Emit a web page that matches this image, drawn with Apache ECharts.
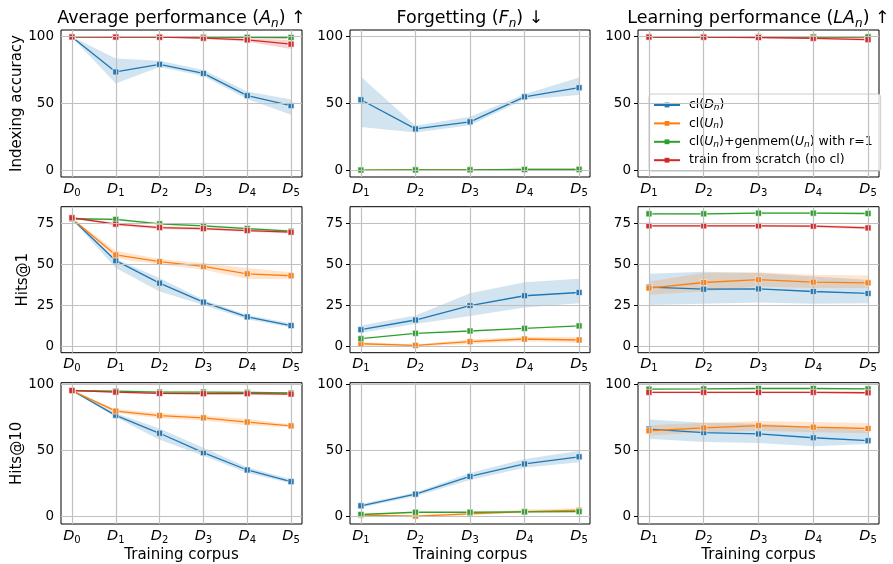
<!DOCTYPE html>
<html><head><meta charset="utf-8">
<script src="https://cdn.jsdelivr.net/npm/echarts@6/dist/echarts.min.js"></script>
<style>html,body{margin:0;padding:0;background:#fff}#c{width:893px;height:564px}</style>
</head><body><div id="c"></div>
<script>
// ---------- data ----------
const xAvg = [0, 1, 2, 3, 4, 5];
const xFL = [1, 2, 3, 4, 5];

// Row 1: Indexing accuracy
const idxA_clD = [99.8, 73.6, 79.3, 72.5, 55.9, 48.4];
const idxA_clD_lo = [99.5, 65.0, 77.3, 70.5, 53.4, 41.6];
const idxA_clD_hi = [100, 83.6, 81.9, 75.0, 59.0, 52.9];
const idxA_clU = [99.8, 99.8, 99.8, 99.6, 99.5, 99.4];
const idxA_gen = [99.8, 99.8, 99.8, 99.6, 99.5, 99.4];
const idxA_scr = [99.8, 99.7, 99.6, 98.9, 97.6, 94.4];
const idxA_scr_lo = [99.6, 99.5, 99.3, 98.5, 96.3, 90.8];
const idxA_scr_hi = [100, 99.9, 99.9, 99.4, 98.8, 97.6];

const idxF_clD = [52.8, 31.0, 36.3, 55.0, 61.8];
const idxF_clD_lo = [32.5, 28.3, 33.8, 53.0, 56.3];
const idxF_clD_hi = [70.0, 33.3, 40.0, 57.0, 69.5];
const idxF_clU = [0.2, 0.3, 0.4, 0.6, 0.7];
const idxF_gen = [0.2, 0.3, 0.4, 0.6, 0.7];

const idxL_clD = [99.8, 99.8, 99.8, 99.7, 99.6];
const idxL_clU = [99.8, 99.8, 99.8, 99.7, 99.6];
const idxL_gen = [99.9, 99.9, 99.9, 99.9, 99.9];
const idxL_scr = [99.7, 99.6, 99.4, 98.8, 97.8];
const idxL_scr_lo = [99.5, 99.4, 99.1, 98.3, 96.9];
const idxL_scr_hi = [99.9, 99.8, 99.7, 99.3, 98.7];

// Row 2: Hits@1
const h1A_clD = [77.7, 52.1, 38.4, 26.8, 17.8, 12.5];
const h1A_clD_lo = [77.2, 47.6, 33.3, 25.1, 16.3, 11.4];
const h1A_clD_hi = [78.2, 53.1, 41.5, 28.2, 19.0, 13.9];
const h1A_clU = [77.7, 55.6, 51.5, 48.6, 44.1, 42.9];
const h1A_clU_lo = [77.2, 53.5, 49.7, 46.6, 40.9, 40.9];
const h1A_clU_hi = [78.2, 58.2, 53.1, 50.7, 47.6, 45.0];
const h1A_gen = [77.7, 77.3, 74.6, 73.4, 71.7, 70.1];
const h1A_gen_lo = [77.2, 76.6, 74.0, 72.8, 71.1, 69.5];
const h1A_gen_hi = [78.2, 78.0, 75.2, 74.0, 72.3, 70.7];
const h1A_scr = [78.3, 74.4, 72.3, 71.7, 70.5, 69.5];
const h1A_scr_lo = [77.8, 73.6, 71.5, 70.9, 69.7, 68.7];
const h1A_scr_hi = [78.8, 75.2, 73.1, 72.5, 71.3, 70.3];

const h1F_clD = [10.0, 15.9, 24.7, 30.7, 32.7];
const h1F_clD_lo = [8.2, 13.5, 18.4, 23.5, 26.2];
const h1F_clD_hi = [12.5, 18.6, 32.3, 39.0, 41.1];
const h1F_clU = [1.4, 0.4, 2.7, 4.3, 3.7];
const h1F_clU_lo = [0.4, -0.2, 1.2, 2.9, 1.8];
const h1F_clU_hi = [2.5, 0.9, 4.1, 5.7, 5.5];
const h1F_gen = [4.5, 7.8, 9.2, 10.8, 12.3];

const h1L_clD = [36.0, 34.7, 34.9, 33.3, 32.1];
const h1L_clD_lo = [25.1, 25.8, 26.6, 25.8, 26.2];
const h1L_clD_hi = [44.1, 45.4, 44.6, 42.5, 40.5];
const h1L_clU = [35.4, 38.8, 40.5, 39.0, 38.6];
const h1L_clU_lo = [31.3, 33.3, 36.4, 35.4, 35.4];
const h1L_clU_hi = [39.4, 44.6, 45.0, 43.5, 43.1];
const h1L_gen = [80.7, 80.7, 81.1, 81.1, 80.9];
const h1L_gen_lo = [80.1, 80.2, 80.6, 80.6, 80.4];
const h1L_gen_hi = [81.3, 81.2, 81.6, 81.6, 81.4];
const h1L_scr = [73.4, 73.4, 73.4, 73.2, 72.1];
const h1L_scr_lo = [72.8, 72.8, 72.8, 72.5, 71.2];
const h1L_scr_hi = [74.0, 74.0, 74.0, 73.9, 73.0];

// Row 3: Hits@10
const h10A_clD = [95.1, 76.3, 62.7, 48.0, 34.9, 26.1];
const h10A_clD_lo = [94.8, 74.9, 57.8, 45.6, 32.7, 24.9];
const h10A_clD_hi = [95.4, 77.8, 66.3, 51.7, 37.0, 27.8];
const h10A_clU = [95.0, 79.5, 76.1, 74.4, 71.2, 68.3];
const h10A_clU_lo = [94.7, 78.0, 74.1, 72.4, 68.8, 67.3];
const h10A_clU_hi = [95.3, 81.0, 78.0, 76.1, 73.7, 69.3];
const h10A_gen = [95.0, 94.6, 93.9, 93.9, 93.7, 93.2];
const h10A_gen_lo = [94.7, 94.0, 93.3, 93.3, 93.1, 92.6];
const h10A_gen_hi = [95.3, 95.2, 94.5, 94.5, 94.3, 93.8];
const h10A_scr = [95.1, 93.9, 92.9, 92.7, 92.7, 92.4];
const h10A_scr_lo = [94.8, 93.2, 92.2, 92.0, 92.0, 91.7];
const h10A_scr_hi = [95.4, 94.6, 93.6, 93.4, 93.4, 93.1];

const h10F_clD = [7.8, 16.6, 30.0, 39.5, 44.9];
const h10F_clD_lo = [6.5, 15.1, 27.3, 36.6, 40.7];
const h10F_clD_hi = [9.2, 17.8, 32.7, 43.2, 49.3];
const h10F_clU = [0.7, 0.0, 1.7, 3.4, 4.4];
const h10F_clU_lo = [0.2, -1.0, 0.9, 2.4, 2.9];
const h10F_clU_hi = [1.2, 0.8, 2.6, 4.9, 5.9];
const h10F_gen = [1.2, 2.9, 2.9, 3.2, 3.4];

const h10L_clD = [65.9, 63.2, 62.2, 59.3, 57.1];
const h10L_clD_lo = [58.5, 56.1, 55.4, 52.9, 54.6];
const h10L_clD_hi = [73.2, 70.7, 70.0, 67.6, 65.1];
const h10L_clU = [64.6, 66.8, 68.5, 67.3, 66.3];
const h10L_clU_lo = [61.0, 63.4, 64.6, 63.4, 62.7];
const h10L_clU_hi = [68.8, 70.7, 72.0, 71.2, 70.5];
const h10L_gen = [96.1, 96.3, 96.6, 96.6, 96.3];
const h10L_gen_lo = [95.6, 95.8, 96.1, 96.1, 95.8];
const h10L_gen_hi = [96.6, 96.8, 97.1, 97.1, 96.8];
const h10L_scr = [93.7, 93.7, 93.7, 93.7, 93.4];
const h10L_scr_lo = [93.1, 93.1, 93.1, 93.1, 92.7];
const h10L_scr_hi = [94.3, 94.3, 94.3, 94.3, 94.1];

// tick labels / texts
const yTicks = [[0, 50, 100], [0, 25, 50, 75], [0, 50, 100]];
const yNames = ['Indexing accuracy', 'Hits@1', 'Hits@10'];
const titles = ['Average performance ({i|A}{s|n}) ↑', 'Forgetting ({i|F}{s|n}) ↓', 'Learning performance ({i|LA}{s|n}) ↑'];
const seriesNames = ['cl(Dn)', 'cl(Un)', 'cl(Un)+genmem(Un) with r=1', 'train from scratch (no cl)'];
const legendLabels = ['cl({i|D}{s|n})', 'cl({i|U}{s|n})', 'cl({i|U}{s|n})+genmem({i|U}{s|n}) with r=1', 'train from scratch (no cl)'];

// ---------- layout / style ----------
const FONT = 'DejaVu Sans';
const KEYS = ['clD', 'clU', 'gen', 'scr'];
const COLORS = { clD: '#1f77b4', clU: '#ff7f0e', gen: '#2ca02c', scr: '#d62728' };
const BANDS = { clD: 'rgba(31,119,180,0.2)', clU: 'rgba(255,127,14,0.2)', gen: 'rgba(44,160,44,0.2)', scr: 'rgba(214,39,40,0.2)' };
const colLeft = [61, 350, 638], colW = [241, 240, 241];
const rowTop = [30, 206.7, 382.7], rowH = [147, 146, 146.3];
const yRange = [[-5, 105], [-4.05, 85.05], [-6, 101]];
const yNameGap = [36, 30, 36];
const xCfg = [{ x: xAvg, min: -0.25, max: 5.25 }, { x: xFL, min: 0.8, max: 5.2 }, { x: xFL, min: 0.8, max: 5.2 }];

const panels = [
  { row: 0, col: 0, s: [['clD', idxA_clD, idxA_clD_lo, idxA_clD_hi], ['clU', idxA_clU], ['gen', idxA_gen], ['scr', idxA_scr, idxA_scr_lo, idxA_scr_hi]] },
  { row: 0, col: 1, s: [['clD', idxF_clD, idxF_clD_lo, idxF_clD_hi], ['clU', idxF_clU], ['gen', idxF_gen]] },
  { row: 0, col: 2, s: [['clD', idxL_clD], ['clU', idxL_clU], ['gen', idxL_gen], ['scr', idxL_scr, idxL_scr_lo, idxL_scr_hi]] },
  { row: 1, col: 0, s: [['clD', h1A_clD, h1A_clD_lo, h1A_clD_hi], ['clU', h1A_clU, h1A_clU_lo, h1A_clU_hi], ['gen', h1A_gen, h1A_gen_lo, h1A_gen_hi], ['scr', h1A_scr, h1A_scr_lo, h1A_scr_hi]] },
  { row: 1, col: 1, s: [['clD', h1F_clD, h1F_clD_lo, h1F_clD_hi], ['clU', h1F_clU, h1F_clU_lo, h1F_clU_hi], ['gen', h1F_gen]] },
  { row: 1, col: 2, s: [['clD', h1L_clD, h1L_clD_lo, h1L_clD_hi], ['clU', h1L_clU, h1L_clU_lo, h1L_clU_hi], ['gen', h1L_gen, h1L_gen_lo, h1L_gen_hi], ['scr', h1L_scr, h1L_scr_lo, h1L_scr_hi]] },
  { row: 2, col: 0, s: [['clD', h10A_clD, h10A_clD_lo, h10A_clD_hi], ['clU', h10A_clU, h10A_clU_lo, h10A_clU_hi], ['gen', h10A_gen, h10A_gen_lo, h10A_gen_hi], ['scr', h10A_scr, h10A_scr_lo, h10A_scr_hi]] },
  { row: 2, col: 1, s: [['clD', h10F_clD, h10F_clD_lo, h10F_clD_hi], ['clU', h10F_clU, h10F_clU_lo, h10F_clU_hi], ['gen', h10F_gen]] },
  { row: 2, col: 2, s: [['clD', h10L_clD, h10L_clD_lo, h10L_clD_hi], ['clU', h10L_clU, h10L_clU_lo, h10L_clU_hi], ['gen', h10L_gen, h10L_gen_lo, h10L_gen_hi], ['scr', h10L_scr, h10L_scr_lo, h10L_scr_hi]] }
];

const grids = [], xAxes = [], yAxes = [], series = [];
panels.forEach((p, gi) => {
  const xc = xCfg[p.col];
  const yt = yTicks[p.row];
  grids.push({ left: colLeft[p.col], top: rowTop[p.row], width: colW[p.col], height: rowH[p.row], show: true, borderColor: '#000', borderWidth: 1, backgroundColor: 'transparent' });
  xAxes.push({
    type: 'value', gridIndex: gi, min: xc.min, max: xc.max,
    axisLine: { show: false }, splitLine: { show: false },
    axisTick: { show: true, length: 4, customValues: xc.x, lineStyle: { color: '#000', width: 1 } },
    axisLabel: {
      customValues: xc.x, margin: 3, color: '#000',
      formatter: v => '{i|D}{d|' + v + '}',
      rich: { i: { fontFamily: FONT, fontStyle: 'italic', fontSize: 14.5, lineHeight: 18, color: '#000' }, d: { fontFamily: FONT, fontSize: 10, lineHeight: 10, verticalAlign: 'bottom', color: '#000' } }
    },
    name: p.row === 2 ? 'Training corpus' : '', nameLocation: 'middle', nameGap: 24,
    nameTextStyle: { fontFamily: FONT, fontSize: 15, color: '#000' }
  });
  yAxes.push({
    type: 'value', gridIndex: gi, min: yRange[p.row][0], max: yRange[p.row][1],
    axisLine: { show: false }, splitLine: { show: false },
    axisTick: { show: true, length: 4, customValues: yt, lineStyle: { color: '#000', width: 1 } },
    axisLabel: { customValues: yt, margin: 7, color: '#000', fontFamily: FONT, fontSize: 13.5 },
    name: p.col === 0 ? yNames[p.row] : '', nameLocation: 'middle', nameGap: yNameGap[p.row], nameRotate: 90,
    nameTextStyle: { fontFamily: FONT, fontSize: 15, color: '#000' }
  });
  // grid lines through the axes
  series.push({
    type: 'line', xAxisIndex: gi, yAxisIndex: gi, data: [], silent: true, z: 1,
    markLine: {
      silent: true, symbol: ['none', 'none'], label: { show: false }, animation: false,
      lineStyle: { color: '#c0c0c0', width: 1.2, type: 'solid' },
      data: xc.x.map(v => ({ xAxis: v })).concat(yt.map(v => ({ yAxis: v })))
    }
  });
  // bands
  p.s.forEach(([k, m, lo, hi]) => {
    if (!lo) return;
    const xs = xc.x;
    series.push({
      type: 'custom', xAxisIndex: gi, yAxisIndex: gi, silent: true, z: 2, clip: true,
      data: xs.map((v, i) => [v, lo[i], hi[i]]),
      renderItem: (params, api) => {
        if (params.dataIndex !== 0) return null;
        const pts = [];
        for (let i = 0; i < xs.length; i++) pts.push(api.coord([xs[i], hi[i]]));
        for (let i = xs.length - 1; i >= 0; i--) pts.push(api.coord([xs[i], lo[i]]));
        return { type: 'polygon', shape: { points: pts }, style: { fill: BANDS[k], stroke: null } };
      }
    });
  });
  // lines
  p.s.forEach(([k, m]) => {
    const c = COLORS[k];
    series.push({
      type: 'line', name: seriesNames[KEYS.indexOf(k)], xAxisIndex: gi, yAxisIndex: gi, z: 3,
      data: xc.x.map((v, i) => [v, m[i]]),
      symbol: 'rect', symbolSize: 6, showSymbol: true,
      lineStyle: { color: c, width: 1.3 },
      itemStyle: { color: c, borderColor: '#fff', borderWidth: 0.6 },
      emphasis: { disabled: true }
    });
  });
});

const titleComps = titles.map((t, c) => ({
  text: t, left: colLeft[c] + colW[c] / 2, top: 7, textAlign: 'center', padding: 0,
  textStyle: {
    fontFamily: FONT, fontSize: 17.5, fontWeight: 'normal', color: '#000', lineHeight: 23,
    rich: {
      i: { fontFamily: FONT, fontStyle: 'italic', fontSize: 17.5, lineHeight: 23, color: '#000' },
      s: { fontFamily: FONT, fontStyle: 'italic', fontSize: 12, lineHeight: 12, verticalAlign: 'bottom', color: '#000' }
    }
  }
}));

const chart = echarts.init(document.getElementById('c'), null, { renderer: 'canvas' });
chart.setOption({
  animation: false,
  backgroundColor: '#fff',
  title: titleComps,
  grid: grids, xAxis: xAxes, yAxis: yAxes,
  legend: {
    data: seriesNames, orient: 'vertical', left: 649, top: 94,
    itemWidth: 26, itemHeight: 6, itemGap: 4.4, padding: [4, 8, 4, 4],
    backgroundColor: 'rgba(255,255,255,0.8)', borderColor: '#cccccc', borderWidth: 1, borderRadius: 3,
    selectedMode: false,
    itemStyle: { borderWidth: 0 },
    formatter: n => legendLabels[seriesNames.indexOf(n)],
    textStyle: {
      fontFamily: FONT, fontSize: 12.5, color: '#000', lineHeight: 14, padding: [0, 0, 0, 4],
      rich: {
        i: { fontFamily: FONT, fontStyle: 'italic', fontSize: 12.5, lineHeight: 14, color: '#000' },
        s: { fontFamily: FONT, fontStyle: 'italic', fontSize: 9, lineHeight: 9, verticalAlign: 'bottom', color: '#000' }
      }
    }
  },
  series: series
});
</script></body></html>
